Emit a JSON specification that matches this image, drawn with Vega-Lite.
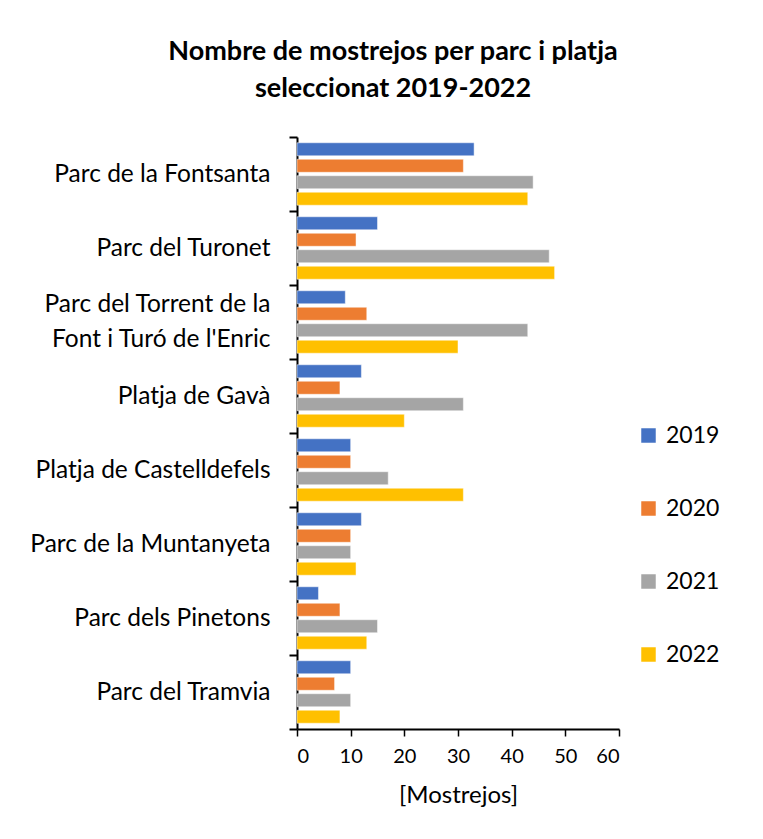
{
  "$schema": "https://vega.github.io/schema/vega-lite/v6.json",
  "autosize": {"type": "none"},
  "width": 322,
  "height": 592,
  "padding": {"left": 297, "top": 137, "right": 144, "bottom": 110},
  "background": "white",
  "title": {
    "text": ["Nombre de mostrejos per parc i platja", "seleccionat 2019-2022"],
    "font": "Lato",
    "fontSize": 27,
    "fontWeight": "bold",
    "color": "#000000",
    "lineHeight": 37,
    "anchor": "middle",
    "frame": "group",
    "dx": -65,
    "offset": 21
  },
  "data": {
    "values": [
      {"parc": "Parc de la Fontsanta", "any": "2019", "mostrejos": 33},
      {"parc": "Parc de la Fontsanta", "any": "2020", "mostrejos": 31},
      {"parc": "Parc de la Fontsanta", "any": "2021", "mostrejos": 44},
      {"parc": "Parc de la Fontsanta", "any": "2022", "mostrejos": 43},
      {"parc": "Parc del Turonet", "any": "2019", "mostrejos": 15},
      {"parc": "Parc del Turonet", "any": "2020", "mostrejos": 11},
      {"parc": "Parc del Turonet", "any": "2021", "mostrejos": 47},
      {"parc": "Parc del Turonet", "any": "2022", "mostrejos": 48},
      {"parc": "Parc del Torrent de la|Font i Turó de l'Enric", "any": "2019", "mostrejos": 9},
      {"parc": "Parc del Torrent de la|Font i Turó de l'Enric", "any": "2020", "mostrejos": 13},
      {"parc": "Parc del Torrent de la|Font i Turó de l'Enric", "any": "2021", "mostrejos": 43},
      {"parc": "Parc del Torrent de la|Font i Turó de l'Enric", "any": "2022", "mostrejos": 30},
      {"parc": "Platja de Gavà", "any": "2019", "mostrejos": 12},
      {"parc": "Platja de Gavà", "any": "2020", "mostrejos": 8},
      {"parc": "Platja de Gavà", "any": "2021", "mostrejos": 31},
      {"parc": "Platja de Gavà", "any": "2022", "mostrejos": 20},
      {"parc": "Platja de Castelldefels", "any": "2019", "mostrejos": 10},
      {"parc": "Platja de Castelldefels", "any": "2020", "mostrejos": 10},
      {"parc": "Platja de Castelldefels", "any": "2021", "mostrejos": 17},
      {"parc": "Platja de Castelldefels", "any": "2022", "mostrejos": 31},
      {"parc": "Parc de la Muntanyeta", "any": "2019", "mostrejos": 12},
      {"parc": "Parc de la Muntanyeta", "any": "2020", "mostrejos": 10},
      {"parc": "Parc de la Muntanyeta", "any": "2021", "mostrejos": 10},
      {"parc": "Parc de la Muntanyeta", "any": "2022", "mostrejos": 11},
      {"parc": "Parc dels Pinetons", "any": "2019", "mostrejos": 4},
      {"parc": "Parc dels Pinetons", "any": "2020", "mostrejos": 8},
      {"parc": "Parc dels Pinetons", "any": "2021", "mostrejos": 15},
      {"parc": "Parc dels Pinetons", "any": "2022", "mostrejos": 13},
      {"parc": "Parc del Tramvia", "any": "2019", "mostrejos": 10},
      {"parc": "Parc del Tramvia", "any": "2020", "mostrejos": 7},
      {"parc": "Parc del Tramvia", "any": "2021", "mostrejos": 10},
      {"parc": "Parc del Tramvia", "any": "2022", "mostrejos": 8}
    ]
  },
  "mark": {"type": "bar", "stroke": "white", "strokeWidth": 0.8, "strokeOpacity": 0.6},
  "encoding": {
    "y": {
      "field": "parc",
      "type": "nominal",
      "sort": null,
      "scale": {"paddingInner": 0, "paddingOuter": 0},
      "axis": {
        "title": null,
        "tickBand": "extent",
        "tickSize": 8,
        "tickColor": "#000000",
        "tickWidth": 2,
        "domainColor": "#000000",
        "domainWidth": 2,
        "labelPadding": 19,
        "labelFont": "Lato",
        "labelFontSize": 24.5,
        "labelColor": "#000000",
        "labelLineHeight": 17.5,
        "labelLimit": 300,
        "labelOffset": -17.5,
        "labelExpr": "indexof(datum.label, '|') >= 0 ? [split(datum.label, '|')[0], '\u200b', split(datum.label, '|')[1]] : ['\u200b', datum.label]"
      }
    },
    "yOffset": {
      "field": "any",
      "type": "nominal",
      "scale": {"paddingInner": 0.21, "paddingOuter": 0.35}
    },
    "x": {
      "field": "mostrejos",
      "type": "quantitative",
      "scale": {"domain": [0, 60], "nice": false},
      "axis": {
        "values": [0, 10, 20, 30, 40, 50, 60],
        "grid": false,
        "title": "[Mostrejos]",
        "titleFont": "Lato",
        "titleFontSize": 24,
        "titleFontWeight": "normal",
        "titleColor": "#000000",
        "titlePadding": 17,
        "tickSize": 7,
        "tickColor": "#000000",
        "tickWidth": 1.5,
        "domainColor": "#000000",
        "domainWidth": 2,
        "labelPadding": 10,
        "labelFont": "Lato",
        "labelFontSize": 20,
        "labelColor": "#000000"
      }
    },
    "color": {
      "field": "any",
      "type": "nominal",
      "scale": {
        "domain": ["2019", "2020", "2021", "2022"],
        "range": ["#4472C4", "#ED7D31", "#A5A5A5", "#FFC000"]
      },
      "legend": {
        "title": null,
        "orient": "none",
        "legendX": 340,
        "legendY": 287,
        "symbolType": "square",
        "symbolSize": 210,
        "symbolStrokeWidth": 0,
        "labelFont": "Lato",
        "labelFontSize": 23,
        "labelColor": "#000000",
        "labelOffset": 6,
        "rowPadding": 49
      }
    }
  },
  "config": {"view": {"stroke": null}}
}
